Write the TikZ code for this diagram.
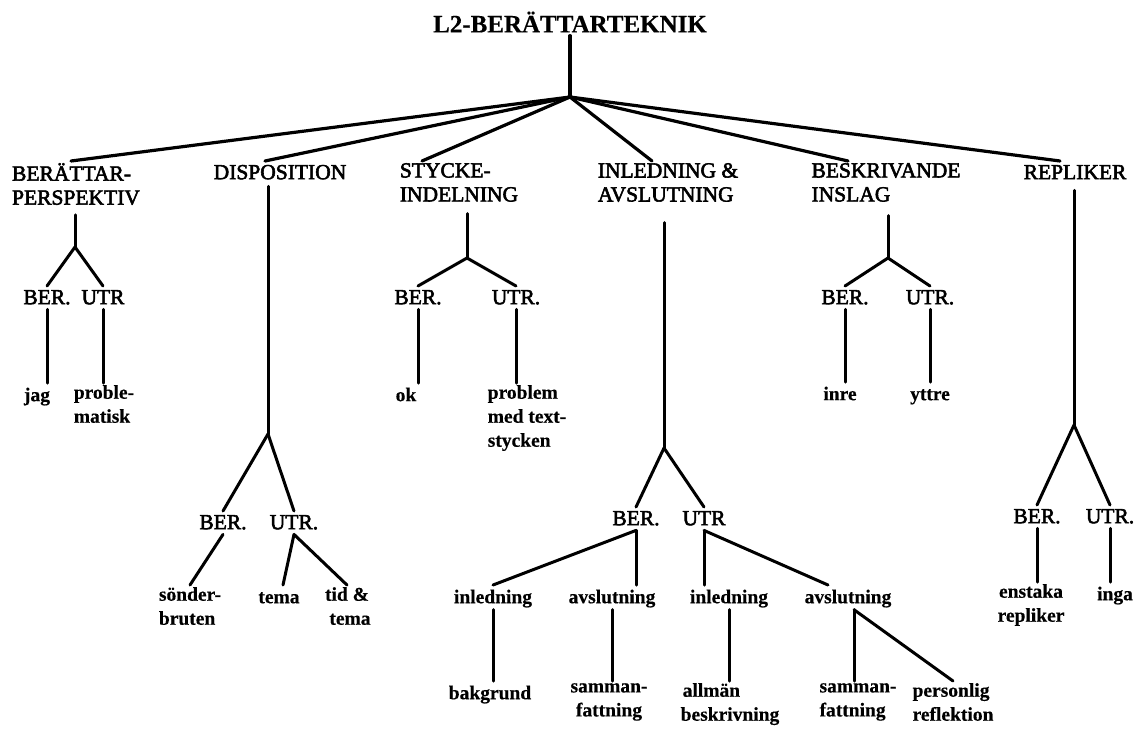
\documentclass[tikz,border=0pt]{standalone}
\usepackage{fontspec}
\setmainfont{Liberation Serif}
\newfontfamily\leaffont{Liberation Serif}[BoldFeatures={FakeBold=0.4}]
\newcommand\mystrut{\rule[-3pt]{0pt}{19pt}}
\newcommand\embon{\special{pdf:literal direct 2 Tr 0.55 w}}
\newcommand\emboff{\special{pdf:literal direct 0 Tr}}
\begin{document}
\begin{tikzpicture}[x=1pt,y=-1pt,
  capl/.style={font=\fontsize{21.5}{24}\selectfont, inner sep=2pt, anchor=north, align=left, execute at begin node=\embon\mystrut, execute at end node=\emboff},
  capc/.style={font=\fontsize{21.5}{24}\selectfont, inner sep=2pt, anchor=north, execute at begin node=\embon\mystrut, execute at end node=\emboff},
  leaf/.style={font=\leaffont\bfseries\fontsize{19.5}{24}\selectfont, inner sep=2pt, anchor=north, align=left, execute at begin node=\mystrut},
  leafc/.style={font=\leaffont\bfseries\fontsize{19.5}{24}\selectfont, inner sep=2pt, anchor=north, align=center, execute at begin node=\mystrut},
  ln/.style={line width=3pt, line cap=round},
  hl/.style={line width=3.2pt, line cap=round}]
\useasboundingbox (0,0) rectangle (1139,729);

% ---- root and level 1 ----
\node[font=\leaffont\bfseries\fontsize{25}{28}\selectfont, inner sep=3pt] (top) at (570,22) {L2-BERÄTTARTEKNIK};
\coordinate (hub) at (570,97);
\node[capl] (pers) at (76,161) {BERÄTTAR-\\PERSPEKTIV};
\node[capc] (disp) at (280,161) {DISPOSITION};
\node[capl] (styc) at (459,161) {STYCKE-\\INDELNING};
\node[capl] (inav) at (668,161) {INLEDNING \&\\AVSLUTNING};
\node[capl] (besk) at (886,161) {BESKRIVANDE\\INSLAG};
\node[capc] (repl) at (1075,161) {REPLIKER};

\draw[hl] (top.south -| hub) -- (hub);
\draw[hl] (hub) -- ([xshift=-5pt]pers.north);
\draw[hl] (hub) -- ([xshift=-15pt]disp.north);
\draw[hl] (hub) -- ([xshift=-37pt]styc.north);
\draw[hl] (hub) -- ([xshift=-16pt]inav.north);
\draw[hl] (hub) -- ([xshift=-38pt]besk.north);
\draw[hl] (hub) -- ([xshift=-15pt]repl.north);

% ---- A: BERÄTTARPERSPEKTIV ----
\coordinate (fA) at (75,247);
\node[capc] (b1) at (47,286) {BER.};
\node[capc] (u1) at (103,286) {UTR};
\node[leaf] (jag) at (37,383) {jag};
\node[leaf] (prob1) at (104,383) {proble-\\matisk};
\draw[ln, shorten <=5pt] (fA |- pers.south) -- (fA);
\draw[ln] (fA) -- (b1.north);
\draw[ln] (fA) -- (u1.north);
\draw[ln] (b1.south) -- (b1.south |- jag.north);
\draw[ln] (u1.south) -- (u1.south |- prob1.north);

% ---- B: DISPOSITION ----
\coordinate (fB) at (268,434);
\node[capc] (b2) at (223,511) {BER.};
\node[capc] (u2) at (294,511) {UTR.};
\node[leaf] (sond) at (190,585) {sönder-\\bruten};
\node[leaf] (tema) at (279,585) {tema};
\node[leafc] (tid) at (347,585) {tid \&\\\hspace*{6pt}tema};
\draw[ln, shorten <=2pt] (fB |- disp.south) -- (fB);
\draw[ln] (fB) -- (b2.north);
\draw[ln] (fB) -- (u2.north);
\draw[ln] (b2.south) -- (sond.north);
\draw[ln] (u2.south) -- ([xshift=4pt]tema.north);
\draw[ln] (u2.south) -- (tid.north);

% ---- C: STYCKEINDELNING ----
\coordinate (fC) at (467,258);
\node[capc] (b3) at (418,286) {BER.};
\node[capc] (u3) at (516,286) {UTR.};
\node[leaf] (ok) at (406,383) {ok};
\node[leaf] (prob2) at (527,383) {problem\\med text-\\stycken};
\draw[ln, shorten <=7pt] (fC |- styc.south) -- (fC);
\draw[ln] (fC) -- (b3.north);
\draw[ln] (fC) -- (u3.north);
\draw[ln] (b3.south) -- (b3.south |- ok.north);
\draw[ln] (u3.south) -- (u3.south |- prob2.north);

% ---- D: INLEDNING & AVSLUTNING ----
\coordinate (fD) at (664,448);
\node[capc] (b4) at (636,507) {BER.};
\node[capc] (u4) at (704,507) {UTR};
\node[leaf] (inl1) at (493,585) {inledning};
\node[leaf] (avs1) at (612,585) {avslutning};
\node[leaf] (inl2) at (729,585) {inledning};
\node[leaf] (avs2) at (848,585) {avslutning};
\node[leaf] (bak) at (490,681) {bakgrund};
\node[leafc] (sam1) at (609,681) {samman-\\fattning};
\node[leaf] (allm) at (730,681) {\hspace*{2pt}allmän\\beskrivning};
\node[leaf] (sam2) at (858,681) {samman-\\fattning};
\node[leaf] (refl) at (953,681) {personlig\\reflektion};
\draw[ln, shorten <=16pt] (fD |- inav.south) -- (fD);
\draw[ln] (fD) -- (b4.north);
\draw[ln] (fD) -- (u4.north);
\draw[ln] (b4.south) -- (inl1.north);
\draw[ln] (b4.south) -- (b4.south |- avs1.north);
\draw[ln] (u4.south) -- (u4.south |- inl2.north);
\draw[ln] (u4.south) -- ([xshift=-20pt]avs2.north);
\draw[ln] (inl1.south) -- (inl1.south |- bak.north);
\draw[ln] (avs1.south) -- (avs1.south |- sam1.north);
\draw[ln] (inl2.south) -- (inl2.south |- allm.north);
\coordinate (a2s) at ([xshift=6pt]avs2.south);
\draw[ln] (a2s) -- (a2s |- sam2.north);
\draw[ln] (a2s) -- (refl.north);

% ---- E: BESKRIVANDE INSLAG ----
\coordinate (fE) at (888,258);
\node[capc] (b5) at (845,286) {BER.};
\node[capc] (u5) at (930,286) {UTR.};
\node[leaf] (inre) at (840,382) {inre};
\node[leaf] (yttre) at (930,382) {yttre};
\draw[ln, shorten <=9pt] (fE |- besk.south) -- (fE);
\draw[ln] (fE) -- (b5.north);
\draw[ln] (fE) -- (u5.north);
\draw[ln] (b5.south) -- (b5.south |- inre.north);
\draw[ln] (u5.south) -- (u5.south |- yttre.north);

% ---- F: REPLIKER ----
\coordinate (fF) at (1074,425);
\node[capc] (b6) at (1037,505) {BER.};
\node[capc] (u6) at (1110,505) {UTR.};
\node[leafc] (enst) at (1031,582) {enstaka\\repliker};
\node[leaf] (inga) at (1115,582) {inga};
\draw[ln, shorten <=6pt] (fF |- repl.south) -- (fF);
\draw[ln] (fF) -- (b6.north);
\draw[ln] (fF) -- (u6.north);
\draw[ln] (b6.south) -- (b6.south |- enst.north);
\draw[ln] (u6.south) -- (u6.south |- inga.north);
\end{tikzpicture}
\end{document}
